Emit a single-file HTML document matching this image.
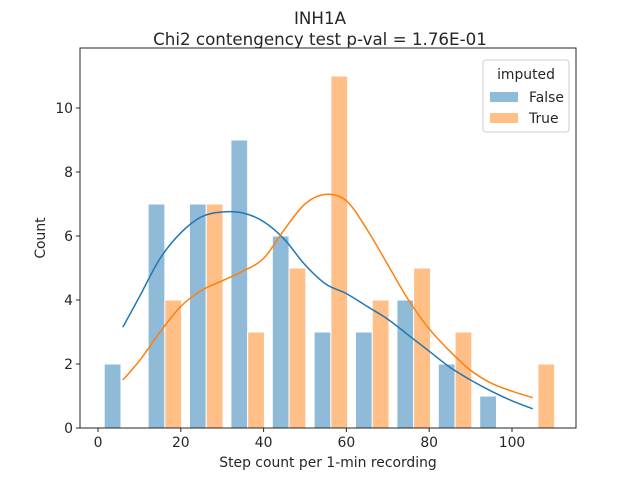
<!DOCTYPE html>
<html><head><meta charset="utf-8"><style>
body{margin:0;background:#fff}
svg{display:block;font-family:"DejaVu Sans","Liberation Sans",sans-serif}
</style></head><body>
<svg id="c" width="640" height="480">
<rect width="640" height="480" fill="#fff"/>
<text x="320" y="24" text-anchor="middle" font-size="16.7" fill="#262626">INH1A</text>
<text x="320" y="45" text-anchor="middle" font-size="16.7" fill="#262626">Chi2 contengency test p-val = 1.76E-01</text>
<g id="plot"></g>
</svg>
<script>
const binStarts=[1.5,12.1,22.1,32.1,42.1,52.2,62.2,72.2,82.2,92.2,102.2];
const falseCounts=[2,7,7,9,6,3,3,4,2,1,0];
const trueCounts=[0,4,7,3,5,11,4,5,3,0,2];
const yTicks=[0,2,4,6,8,10];
const xTicks=[0,20,40,60,80,100];
const kdeX=[6,10,15,20,25,30,35,40,45,50,55,60,65,70,75,80,85,90,95,100,105];
const kdeFalse=[3.15,4.1,5.3,6.1,6.6,6.75,6.72,6.45,5.9,5.1,4.5,4.2,3.8,3.4,2.9,2.4,1.9,1.5,1.15,0.85,0.6];
const kdeTrue=[1.5,2.1,3.0,3.8,4.3,4.6,4.9,5.3,6.2,7.0,7.3,7.1,6.2,5.1,4.0,3.1,2.4,1.8,1.4,1.15,0.95];
const NS='http://www.w3.org/2000/svg';
const L=80,R=576,T=48,B=428;
const xs=v=>98+v*4.14;
const ys=v=>428-v*32;
const g=document.getElementById('plot');
function mk(t,a,p){const e=document.createElementNS(NS,t);for(const k in a)e.setAttribute(k,a[k]);(p||g).appendChild(e);return e;}
const half=4.05;
binStarts.forEach((s,i)=>{
  if(falseCounts[i]>0){
    const r=mk('rect',{x:xs(s),y:ys(falseCounts[i]),width:xs(s+half)-xs(s),height:ys(0)-ys(falseCounts[i]),fill:'#1f77b4','fill-opacity':0.5,stroke:'#fff','stroke-width':1});
    
    
  }
  if(trueCounts[i]>0){
    const r=mk('rect',{x:xs(s+half),y:ys(trueCounts[i]),width:xs(s+2*half)-xs(s+half),height:ys(0)-ys(trueCounts[i]),fill:'#ff7f0e','fill-opacity':0.5,stroke:'#fff','stroke-width':1});
    
    
  }
});
function smooth(xv,yv){
  const p=xv.map((x,i)=>[xs(x),ys(yv[i])]);
  let d='M'+p[0][0]+','+p[0][1];
  for(let i=0;i<p.length-1;i++){
    const p0=p[i-1]||p[i],p1=p[i],p2=p[i+1],p3=p[i+2]||p[i+1];
    d+=' C'+(p1[0]+(p2[0]-p0[0])/6)+','+(p1[1]+(p2[1]-p0[1])/6)+' '+(p2[0]-(p3[0]-p1[0])/6)+','+(p2[1]-(p3[1]-p1[1])/6)+' '+p2[0]+','+p2[1];
  }
  return d;
}
const lf=mk('path',{d:smooth(kdeX,kdeFalse),fill:'none',stroke:'#1f77b4','stroke-width':1.5});


const lt=mk('path',{d:smooth(kdeX,kdeTrue),fill:'none',stroke:'#ff7f0e','stroke-width':1.5});


const fr=mk('rect',{x:L,y:T,width:R-L,height:B-T,fill:'none',stroke:'#262626','stroke-width':1});


yTicks.forEach(v=>{
  mk('line',{x1:L-4,x2:L,y1:ys(v),y2:ys(v),stroke:'#262626'});
  const t=mk('text',{x:L-7,y:ys(v)+5,'text-anchor':'end','font-size':13.9,fill:'#262626'});t.textContent=v;
  
  
});
xTicks.forEach(v=>{
  mk('line',{x1:xs(v),x2:xs(v),y1:B,y2:B+4,stroke:'#262626'});
  const t=mk('text',{x:xs(v),y:B+19,'text-anchor':'middle','font-size':13.9,fill:'#262626'});t.textContent=v;
  
  
});
const xl=mk('text',{x:328,y:467,'text-anchor':'middle','font-size':13.9,fill:'#262626'});xl.textContent='Step count per 1-min recording';


const yl=mk('text',{x:45,y:238,'text-anchor':'middle','font-size':13.9,fill:'#262626',transform:'rotate(-90 45 238)'});yl.textContent='Count';


const lg=mk('g',{});


mk('rect',{x:483,y:60,width:86,height:72,rx:3,fill:'#fff','fill-opacity':0.8,stroke:'#ccc'},lg);
const lt0=mk('text',{x:526,y:79,'text-anchor':'middle','font-size':13.9,fill:'#262626'},lg);lt0.textContent='imputed';


[['False','#1f77b4',97],['True','#ff7f0e',118]].forEach(([n,c,y])=>{
  const e=mk('g',{},lg);
  
  
  mk('rect',{x:490,y:y-5,width:28,height:10,fill:c,'fill-opacity':0.5},e);
  const t=mk('text',{x:529,y:y+5,'font-size':13.9,fill:'#262626'},e);t.textContent=n;
});
</script>
</body></html>
